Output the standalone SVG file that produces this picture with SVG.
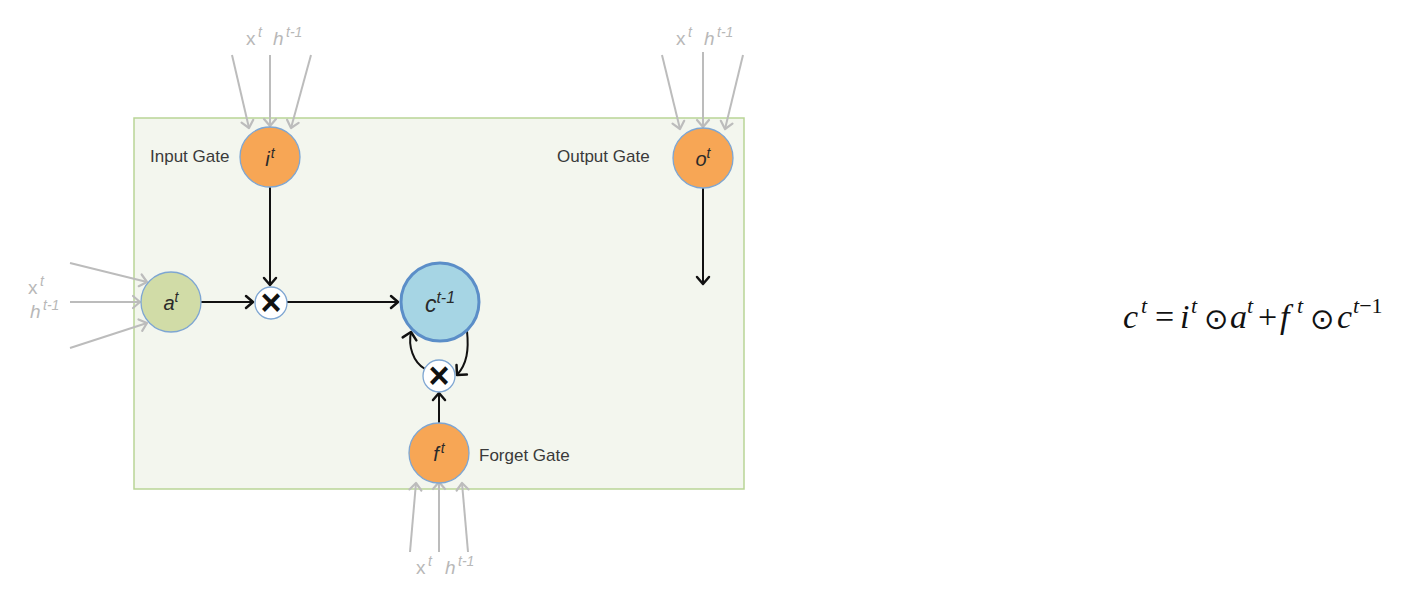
<svg xmlns="http://www.w3.org/2000/svg" width="1420" height="602" viewBox="0 0 1420 602">
<style>
.lbl{font-family:"Liberation Sans",Arial,sans-serif;font-size:17px;fill:#3a3a3a}
.in{font-family:"Liberation Sans",Arial,sans-serif;fill:#b8b8b8}
.math{font-family:"Liberation Sans",Arial,sans-serif;font-style:italic;fill:#2a2a2a}
.eq{font-family:"Liberation Serif","Times New Roman",serif;font-size:34px;fill:#111}
.od{font-family:"DejaVu Sans",sans-serif;font-size:29px;font-style:normal}
.gate{fill:#f7a655;stroke:#7ea6d2;stroke-width:1.3}
.mul{fill:#ffffff;stroke:#7ea6d2;stroke-width:1.3}
.gl{stroke:#bcbcbc;stroke-width:2;fill:none;marker-end:url(#ga)}
.bl{stroke:#111;stroke-width:2;fill:none;marker-end:url(#ba)}
.x{font-family:"Liberation Sans",Arial,sans-serif;font-weight:bold;font-size:36px;fill:#111}
</style>
<defs>
<marker id="ba" markerUnits="userSpaceOnUse" markerWidth="20" markerHeight="20" refX="0" refY="0" viewBox="-10 -10 20 20" orient="auto" overflow="visible">
<path d="M -7 -6 L 0 0 L -7 6" fill="none" stroke="#111" stroke-width="2.5" stroke-linecap="round" stroke-linejoin="round"/>
</marker>
<marker id="ba2" markerUnits="userSpaceOnUse" markerWidth="20" markerHeight="20" refX="0" refY="0" viewBox="-10 -10 20 20" orient="auto" overflow="visible">
<path d="M -7 -7 L 0 0 L -7 7" fill="none" stroke="#111" stroke-width="2.5" stroke-linecap="round" stroke-linejoin="round"/>
</marker>
<marker id="ga" markerUnits="userSpaceOnUse" markerWidth="20" markerHeight="20" refX="0" refY="0" viewBox="-10 -10 20 20" orient="auto" overflow="visible">
<path d="M -7 -6 L 0 0 L -7 6" fill="none" stroke="#bcbcbc" stroke-width="2.2" stroke-linecap="round" stroke-linejoin="round"/>
</marker>
</defs>
<rect width="1420" height="602" fill="#ffffff"/>
<g id="cell">
<rect x="134" y="118" width="610" height="371" fill="#f3f6ee" stroke="#b9d596" stroke-width="1.5"/>
</g>
<g id="connectors">
<line class="gl" x1="232" y1="55" x2="249" y2="128"/>
<line class="gl" x1="270" y1="55" x2="270" y2="126"/>
<line class="gl" x1="311" y1="55" x2="291" y2="128"/>
<line class="gl" x1="662" y1="55" x2="680" y2="129"/>
<line class="gl" x1="703" y1="52" x2="703" y2="127"/>
<line class="gl" x1="743" y1="55" x2="725" y2="129"/>
<line class="gl" x1="70" y1="263" x2="147" y2="282"/>
<line class="gl" x1="70" y1="302" x2="140" y2="302"/>
<line class="gl" x1="70" y1="348" x2="147" y2="323"/>
<line class="gl" x1="410" y1="552" x2="416" y2="483"/>
<line class="gl" x1="439" y1="552" x2="439" y2="482"/>
<line class="gl" x1="468" y1="552" x2="462" y2="483"/>
<line class="bl" x1="201" y1="302" x2="253" y2="302"/>
<line class="bl" x1="270" y1="187" x2="270" y2="285"/>
<line class="bl" x1="287" y1="302" x2="398" y2="302"/>
<line class="bl" x1="703" y1="188" x2="703" y2="284"/>
<line class="bl" x1="439" y1="423" x2="439" y2="393"/>
<path d="M 425 369 C 413 362 408 346 411 332" fill="none" stroke="#111" stroke-width="2" marker-end="url(#ba2)"/>
<path d="M 467 331 C 469 350 467 364 457 375" fill="none" stroke="#111" stroke-width="2" marker-end="url(#ba2)"/>
</g>
<g id="input-gate">
<circle class="gate" cx="270" cy="157" r="30"/>
<text class="math" x="270" y="166" text-anchor="middle" font-size="20">i<tspan font-size="14" dx="1" dy="-8">t</tspan></text>
<text class="lbl" x="150" y="162">Input Gate</text>
</g>
<g id="output-gate">
<circle class="gate" cx="703" cy="158" r="30"/>
<text class="math" x="703" y="166" text-anchor="middle" font-size="20">o<tspan font-size="14" dy="-8">t</tspan></text>
<text class="lbl" x="557" y="162">Output Gate</text>
</g>
<g id="forget-gate">
<circle class="gate" cx="439" cy="453" r="30"/>
<text class="math" x="439" y="461" text-anchor="middle" font-size="20">f<tspan font-size="14" dx="2" dy="-8">t</tspan></text>
<text class="lbl" x="479" y="461">Forget Gate</text>
</g>
<g id="candidate">
<circle cx="171" cy="302" r="30" fill="#d1dca7" stroke="#7ea6d2" stroke-width="1.3"/>
<text class="math" x="171" y="310" text-anchor="middle" font-size="20">a<tspan font-size="14" dy="-8">t</tspan></text>
</g>
<g id="cell-state">
<circle cx="440" cy="302" r="39" fill="#a6d5e4" stroke="#5b8ec8" stroke-width="3"/>
<text class="math" x="440" y="312" text-anchor="middle" font-size="23">c<tspan font-size="16" dy="-9">t-1</tspan></text>
</g>
<g id="mul-1">
<circle class="mul" cx="271" cy="303" r="16"/>
<text class="x" x="271" y="315" text-anchor="middle">×</text>
</g>
<g id="mul-2">
<circle class="mul" cx="439" cy="376" r="16"/>
<text class="x" x="439" y="388" text-anchor="middle">×</text>
</g>
<g id="inputs">
<text class="in" font-size="19" x="246" y="45">x</text><text class="in" font-size="14" x="258" y="37" font-style="italic">t</text>
<text class="in" font-size="19" x="273" y="45" font-style="italic">h</text><text class="in" font-size="14" x="286" y="37" font-style="italic">t-1</text>
<text class="in" font-size="19" x="676" y="45">x</text><text class="in" font-size="14" x="688" y="37" font-style="italic">t</text>
<text class="in" font-size="19" x="704" y="45" font-style="italic">h</text><text class="in" font-size="14" x="717" y="37" font-style="italic">t-1</text>
<text class="in" font-size="19" x="28" y="294">x</text><text class="in" font-size="14" x="40" y="286" font-style="italic">t</text>
<text class="in" font-size="19" x="30" y="318" font-style="italic">h</text><text class="in" font-size="14" x="43" y="310" font-style="italic">t-1</text>
<text class="in" font-size="19" x="416" y="574">x</text><text class="in" font-size="14" x="428" y="566" font-style="italic">t</text>
<text class="in" font-size="19" x="445" y="574" font-style="italic">h</text><text class="in" font-size="14" x="458" y="566" font-style="italic">t-1</text>
</g>
<g id="equation">
<text class="eq" y="328"><tspan x="1123" font-style="italic">c</tspan><tspan x="1141" y="313" font-size="22" font-style="italic">t</tspan><tspan x="1155" y="328">=</tspan><tspan x="1180" font-style="italic">i</tspan><tspan x="1191" y="313" font-size="22" font-style="italic">t</tspan><tspan class="od" x="1204" y="329">⊙</tspan><tspan x="1230" y="328" font-style="italic">a</tspan><tspan x="1247" y="313" font-size="22" font-style="italic">t</tspan><tspan x="1258" y="328">+</tspan><tspan x="1280" font-style="italic">f</tspan><tspan x="1297" y="313" font-size="22" font-style="italic">t</tspan><tspan class="od" x="1310" y="329">⊙</tspan><tspan x="1337" y="328" font-style="italic">c</tspan><tspan x="1353" y="313" font-size="22" font-style="italic">t</tspan><tspan y="313" font-size="22">−1</tspan></text>
</g>
</svg>
